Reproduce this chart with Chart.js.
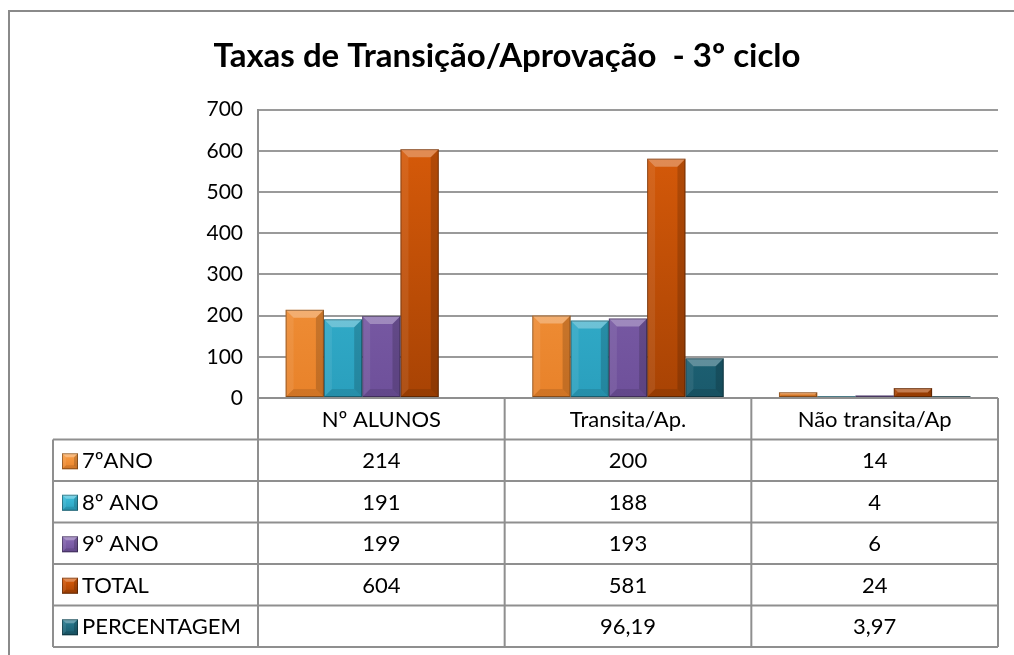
<!DOCTYPE html>
<html>
<head>
<meta charset="utf-8">
<script src="https://cdn.jsdelivr.net/npm/chart.js@4.4.1/dist/chart.umd.min.js"></script>
<style>
    html, body { margin: 0; padding: 0; background: #fff; }
    #wrap { position: relative; width: 1014px; height: 655px; overflow: hidden; }
    #frame { position: absolute; left: 8px; top: 10px; width: 1100px; height: 700px;
             border-left: 2px solid #8a8a8a; border-top: 2px solid #8a8a8a; }
    #chart { position: absolute; left: 0; top: 0; }
</style>
</head>
<body>
<div id="wrap">
    <div id="frame"></div>
    <canvas id="chart" width="1014" height="655"></canvas>
</div>
<script>
const categories = ["Nº ALUNOS", "Transita/Ap.", "Não transita/Ap"];
const seriesNames = ["7ºANO", "8º ANO", "9º ANO", "TOTAL", "PERCENTAGEM"];
const ano7 = [214, 200, 14];
const ano8 = [191, 188, 4];
const ano9 = [199, 193, 6];
const total = [604, 581, 24];
const percentagem = [null, 96.19, 3.97];
const yTicks = [0, 100, 200, 300, 400, 500, 600, 700];

const FONT = "Lato, 'Liberation Sans', sans-serif";
const colors = [
    ["#fba149", "#e8822a"],
    ["#3fc2de", "#2a9fbd"],
    ["#8a6bb5", "#6e509a"],
    ["#dc5d0a", "#a84304"],
    ["#2a7d93", "#1a5a6c"]
];

const vGrad = (pair) => (ctx) => {
    const area = ctx.chart.chartArea;
    if (!area) return pair[0];
    const g = ctx.chart.ctx.createLinearGradient(0, area.top, 0, area.bottom);
    g.addColorStop(0, pair[0]);
    g.addColorStop(1, pair[1]);
    return g;
};

const fmt = v => (v === null || v === undefined) ? "" : String(v).replace(".", ",");

function bevel(c, x0, y0, x1, y1, b) {
    c.save();
    c.fillStyle = "rgba(255,255,255,0.30)";
    c.beginPath(); c.moveTo(x0, y0); c.lineTo(x1, y0); c.lineTo(x1 - b, y0 + b); c.lineTo(x0 + b, y0 + b); c.fill();
    c.fillStyle = "rgba(255,255,255,0.08)";
    c.beginPath(); c.moveTo(x0, y0); c.lineTo(x0 + b, y0 + b); c.lineTo(x0 + b, y1 - b); c.lineTo(x0, y1); c.fill();
    c.fillStyle = "rgba(0,0,0,0.16)";
    c.beginPath(); c.moveTo(x1, y0); c.lineTo(x1 - b, y0 + b); c.lineTo(x1 - b, y1 - b); c.lineTo(x1, y1); c.fill();
    c.fillStyle = "rgba(0,0,0,0.10)";
    c.beginPath(); c.moveTo(x0, y1); c.lineTo(x0 + b, y1 - b); c.lineTo(x1 - b, y1 - b); c.lineTo(x1, y1); c.fill();
    c.strokeStyle = "rgba(0,0,0,0.35)";
    c.lineWidth = 1;
    c.strokeRect(x0 + 0.5, y0 + 0.5, x1 - x0 - 1, y1 - y0 - 1);
    c.restore();
}

const bevelPlugin = {
    id: "bevel",
    afterDatasetsDraw(chart) {
        const c = chart.ctx;
        chart.data.datasets.forEach((ds, i) => {
            chart.getDatasetMeta(i).data.forEach(bar => {
                const p = bar.getProps(["x", "y", "base", "width"], true);
                if (isNaN(p.y)) return;
                const h = p.base - p.y;
                if (h <= 0) return;
                const b = Math.min(8, h / 2, p.width / 4);
                bevel(c, p.x - p.width / 2, p.y, p.x + p.width / 2, p.base, b);
            });
        });
    }
};

const tablePlugin = {
    id: "dataTable",
    afterDraw(chart) {
        const c = chart.ctx;
        const xs = chart.scales.x;
        const area = chart.chartArea;
        const n = categories.length;
        const colW = (area.right - area.left) / n;
        const rowH = 41.5;
        const top = area.bottom;
        const tableLeft = 53;
        const rows = chart.data.datasets.length;
        const bottom = top + rowH * (rows + 1);
        c.save();
        c.strokeStyle = "#8f8f8f";
        c.lineWidth = 2;
        c.beginPath();
        c.moveTo(area.left, top); c.lineTo(area.right, top);
        for (let r = 1; r <= rows + 1; r++) {
            c.moveTo(tableLeft, top + r * rowH); c.lineTo(area.right, top + r * rowH);
        }
        c.moveTo(tableLeft, top + rowH); c.lineTo(tableLeft, bottom);
        for (let k = 0; k <= n; k++) {
            const x = area.left + k * colW;
            c.moveTo(x, top); c.lineTo(x, bottom);
        }
        c.stroke();

        c.fillStyle = "#000";
        c.font = "22px " + FONT;
        c.textBaseline = "middle";
        c.textAlign = "center";
        categories.forEach((cat, k) => {
            c.fillText(cat, xs.getPixelForValue(k), top + rowH / 2 + 1);
        });
        chart.data.datasets.forEach((ds, r) => {
            const yMid = top + (r + 1.5) * rowH + 1;
            const kx = 62, ks = 16;
            const g = c.createLinearGradient(0, yMid - ks / 2, 0, yMid + ks / 2);
            g.addColorStop(0, colors[r][0]);
            g.addColorStop(1, colors[r][1]);
            c.fillStyle = g;
            c.fillRect(kx, yMid - ks / 2, ks, ks);
            bevel(c, kx, yMid - ks / 2, kx + ks, yMid + ks / 2, 4);
            c.fillStyle = "#000";
            c.textAlign = "left";
            c.fillText(ds.label, kx + ks + 4, yMid);
            c.textAlign = "center";
            ds.data.forEach((v, k) => {
                c.fillText(fmt(v), xs.getPixelForValue(k), yMid);
            });
        });
        c.restore();
    }
};

const seriesData = [ano7, ano8, ano9, total, percentagem];

new Chart(document.getElementById("chart"), {
    type: "bar",
    data: {
        labels: categories,
        datasets: seriesNames.map((name, i) => ({
            label: name,
            data: seriesData[i],
            backgroundColor: vGrad(colors[i]),
            borderWidth: 0,
            categoryPercentage: 0.776,
            barPercentage: 1.0
        }))
    },
    options: {
        responsive: false,
        animation: false,
        layout: { padding: { top: 0, left: 16, right: 16, bottom: 257 } },
        plugins: {
            legend: { display: false },
            tooltip: { enabled: false },
            title: {
                display: true,
                text: "Taxas de Transição/Aprovação  - 3º ciclo",
                color: "#000",
                font: { family: FONT, size: 33, weight: "bold" },
                padding: { top: 37, bottom: 33 }
            }
        },
        scales: {
            x: { display: false },
            y: {
                min: 0,
                max: 700,
                afterFit: s => { s.width = 242; },
                afterBuildTicks: s => { s.ticks = yTicks.map(v => ({ value: v })); },
                ticks: {
                    color: "#000",
                    padding: 15,
                    font: { family: FONT, size: 21 }
                },
                grid: { color: "#9a9a9a", lineWidth: 2, drawTicks: false },
                border: { display: true, color: "#8f8f8f", width: 2 }
            }
        }
    },
    plugins: [bevelPlugin, tablePlugin]
});
</script>
</body>
</html>
